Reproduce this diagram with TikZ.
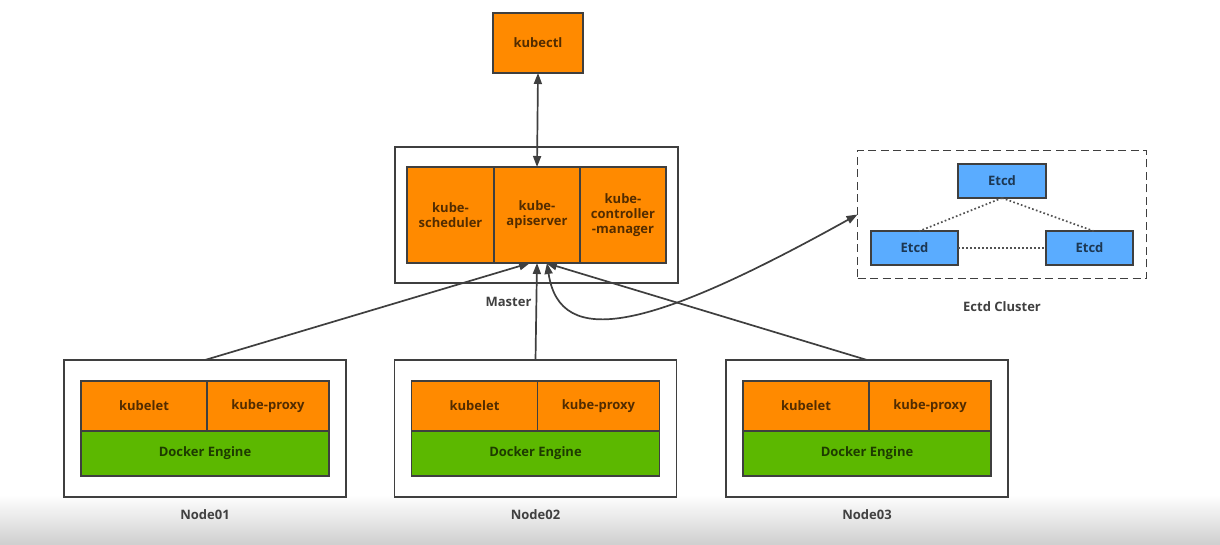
\documentclass[tikz,border=0pt]{standalone}
\usepackage{fontspec}
\setmainfont{Open Sans}
\usepackage{xcolor}
\usepackage{tikz}
\usetikzlibrary{arrows.meta, positioning, fit}

\definecolor{kubeorange}{HTML}{FF8A00}
\definecolor{dockergreen}{HTML}{5CB800}
\definecolor{etcdblue}{HTML}{5AACFF}
\definecolor{linegray}{HTML}{3F3F3F}

\begin{document}
\begin{tikzpicture}[
            x=1pt, y=-1pt,
            font=\bfseries\fontsize{13}{15}\selectfont,
            comp/.style={rectangle, draw=linegray, line width=1.7pt, outer sep=0pt, inner sep=2pt, align=center, text=black, text opacity=0.68},
            orange/.style={comp, fill=kubeorange},
            frame/.style={rectangle, draw=linegray, line width=1.8pt, fill=none, outer sep=0pt},
            caption/.style={text=black!75, font=\bfseries\fontsize{13}{15}\selectfont},
            link/.style={draw=linegray, line width=1.7pt, -{Triangle[length=11pt, width=8pt]}},
            peer/.style={draw=linegray!90, line width=1.7pt, dash pattern=on 1.7pt off 2.3pt}
        ]
        \useasboundingbox (0,0) rectangle (1220,545);
        % screen shading at the bottom
        \shade[top color=white, bottom color=black!19] (0,495) rectangle (1220,545);

        % kubectl
        \node[orange, minimum width=90, minimum height=60] (kubectl) at (538,43) {kubectl};

        % Master
        \node[orange, minimum width=87, minimum height=96] (kube_sched) at (450.5,215) {kube-\\scheduler};
        \node[orange, minimum width=86, minimum height=96, right=0pt of kube_sched] (kube_api) {kube-\\apiserver};
        \node[orange, minimum width=86, minimum height=96, right=0pt of kube_api] (kube_ctrl) {kube-\\controller\\-manager};
        \node[frame, inner xsep=12pt, inner ysep=20pt, fit=(kube_sched)(kube_ctrl)] (master_box) {};
        \node[caption, below=11pt of master_box, xshift=-28pt] {Master};

        % Worker nodes
        \foreach \i/\x in {1/205.5, 2/536, 3/867.5} {
            \node[orange, minimum width=126, minimum height=50] (w\i_kubelet) at (\x-61.5,406) {kubelet};
            \node[orange, minimum width=122, minimum height=50, right=0pt of w\i_kubelet] (w\i_proxy) {kube-proxy};
            \node[comp, fill=dockergreen, minimum width=248, minimum height=45, anchor=north west] (w\i_docker) at (w\i_kubelet.south west) {Docker Engine};
            \node[frame, inner xsep=17pt, inner ysep=21pt, fit=(w\i_kubelet)(w\i_docker)] (w\i_box) {};
            \node[caption, below=9pt of w\i_box] {Node0\i};
        }

        % Etcd cluster
        \node[comp, fill=etcdblue, minimum width=88, minimum height=34] (etcd_top) at (1002,181) {Etcd};
        \node[comp, fill=etcdblue, minimum width=87, minimum height=34] (etcd_left) at (914.5,248) {Etcd};
        \node[comp, fill=etcdblue, minimum width=87, minimum height=34] (etcd_right) at (1089.5,248) {Etcd};
        \draw[peer] (etcd_top.south) -- ([xshift=5pt]etcd_left.north);
        \draw[peer] (etcd_top.south) -- ([xshift=4pt]etcd_right.north);
        \draw[peer] (etcd_left.east) -- (etcd_right.west);
        \node[rectangle, draw=linegray, line width=1.9pt, dash pattern=on 8pt off 4.5pt, inner sep=13.5pt, outer sep=0pt, fit=(etcd_top)(etcd_left)(etcd_right)] (etcd_box) {};
        \node[caption, below=20pt of etcd_box] {Ectd Cluster};

        % connections
        \draw[link, {Triangle[length=11pt, width=8pt]}-{Triangle[length=11pt, width=8pt]}] (kubectl.south) -- (kube_api.north);
        \draw[link] (w1_box.north) -- ([xshift=-7pt]kube_api.south);
        \draw[link] (w2_box.north) -- (kube_api.south);
        \draw[link] (w3_box.north) -- ([xshift=9pt]kube_api.south);
        \draw[link, {Triangle[length=11pt, width=8pt]}-{Triangle[length=11pt, width=8pt]}] ([xshift=10pt]kube_api.south) .. controls (560,350) and (650,330) .. (etcd_box.west);
    \end{tikzpicture}
\end{document}
